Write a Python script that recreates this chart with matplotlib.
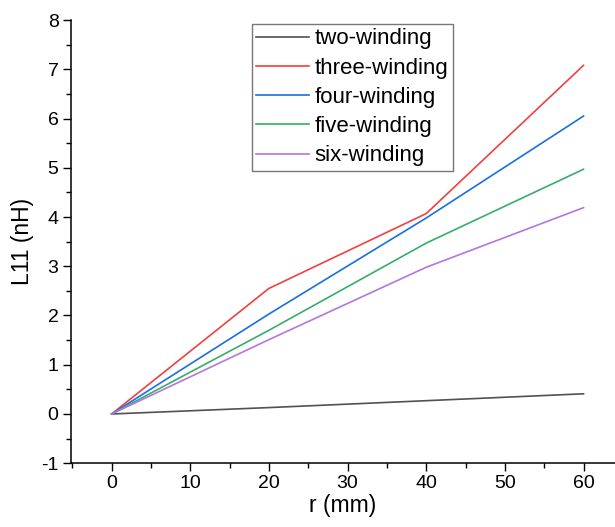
import matplotlib
matplotlib.use('Agg')
import matplotlib.pyplot as plt
from matplotlib.ticker import MultipleLocator

plt.rcParams['font.family'] = ['Liberation Sans', 'DejaVu Sans']
plt.rcParams['axes.unicode_minus'] = False

r_mm = [0, 20, 40, 60]
two_winding = [0, 0.13, 0.27, 0.41]
three_winding = [0, 2.55, 4.07, 7.08]
four_winding = [0, 2.03, 3.98, 6.05]
five_winding = [0, 1.70, 3.47, 4.97]
six_winding = [0, 1.51, 2.98, 4.19]

labels = ['two-winding', 'three-winding', 'four-winding', 'five-winding', 'six-winding']
colors = ['#515151', '#F14040', '#1A6FDF', '#37AD6B', '#B177DE']


def main():
    fig = plt.figure(figsize=(6.15, 5.27), dpi=100)
    ax = fig.add_axes([0.115, 0.121, 0.885, 0.841])

    series = [two_winding, three_winding, four_winding, five_winding, six_winding]
    for vals, lab, col in zip(series, labels, colors):
        ax.plot(r_mm, vals, color=col, lw=1.2, label=lab)

    ax.set_xlim(-5.2, 64)
    ax.set_ylim(-1, 8)
    ax.xaxis.set_major_locator(MultipleLocator(10))
    ax.xaxis.set_minor_locator(MultipleLocator(5))
    ax.yaxis.set_major_locator(MultipleLocator(1))
    ax.yaxis.set_minor_locator(MultipleLocator(0.5))

    ax.spines['top'].set_visible(False)
    ax.spines['right'].set_visible(False)
    for s in ['left', 'bottom']:
        ax.spines[s].set_linewidth(1.1)

    ax.tick_params(which='major', direction='out', length=5.8, width=1.0, labelsize=14, pad=3)
    ax.tick_params(which='minor', direction='out', length=3.6, width=1.0)

    ax.set_xlabel('r (mm)', fontsize=16.5, labelpad=1)
    ax.set_ylabel('L11 (nH)', fontsize=16.5, labelpad=5)

    leg = ax.legend(loc='upper left', bbox_to_anchor=(0.333, 0.991), borderaxespad=0,
                    fontsize=16, frameon=True, fancybox=False, handlelength=2.35,
                    handletextpad=0.27, labelspacing=0.37, borderpad=0.2)
    leg.get_frame().set_edgecolor('#555555')
    leg.get_frame().set_linewidth(1.0)

    plt.savefig('out.png', dpi=100)


if __name__ == '__main__':
    main()
